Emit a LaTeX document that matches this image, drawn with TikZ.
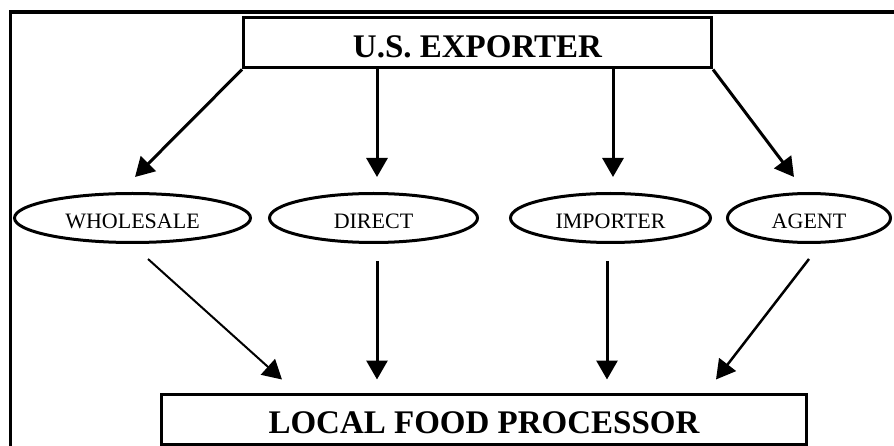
\documentclass[tikz,border=0pt]{standalone}
\usepackage{fontspec}
\setmainfont{Liberation Serif}
\usetikzlibrary{shapes.geometric,arrows.meta,calc}
\tikzset{
  bigbox/.style={draw,line width=3pt,rectangle,inner sep=0pt,
    font=\fontsize{33}{36}\selectfont\bfseries},
  oval/.style={draw,line width=3pt,ellipse,inner sep=0pt,minimum height=49pt,
    font=\fontsize{22}{24}\selectfont, text height=22pt, text depth=0pt},
  arr/.style={line width=3pt,-{Triangle[length=19pt,width=21pt]}},
  thinarr/.style={line width=2pt,-{Triangle[length=19pt,width=21pt]}},
  midarr/.style={line width=2.5pt,-{Triangle[length=19pt,width=21pt]}},
}
\begin{document}
\begin{tikzpicture}[x=1pt,y=-1pt]
\useasboundingbox (0,0) rectangle (894,446);
% outer frame (partly visible)
\draw[line width=3.5pt] (10.3,460) -- (10.3,12) -- (910,12);
% top box
\node[bigbox,minimum width=468pt,minimum height=50pt,text height=30pt,text depth=0pt]
  (ex) at (477.5,43) {U.S. EXPORTER};
% ellipses
\node[oval,minimum width=236pt] (wh) at (132.5,218) {WHOLESALE};
\node[oval,minimum width=208pt] (dr) at (373.5,218) {DIRECT};
\node[oval,minimum width=200pt] (im) at (610.5,218) {IMPORTER};
\node[oval,minimum width=163pt] (ag) at (809,218) {AGENT};
% bottom box
\node[bigbox,minimum width=645pt,minimum height=50pt,text height=29pt,text depth=0pt]
  (lp) at (484,419) {LOCAL FOOD PROCESSOR};
% upper arrows
\draw[arr] (ex.south west) -- ($(wh.north)+(2.5,-15)$);
\draw[arr] ($(dr.north |- ex.south)+(3.5,0)$) -- ($(dr.north)+(3.5,-15)$);
\draw[arr] ($(im.north |- ex.south)+(2.5,0)$) -- ($(im.north)+(2.5,-15)$);
\draw[arr] (ex.south east) -- ($(ag.north)+(-15,-15)$);
% lower arrows
\draw[thinarr] ($(wh.south)+(15.5,15)$) -- ($(lp.north)+(-202,-13)$);
\draw[arr] ($(dr.south)+(3.5,17)$) -- ($(lp.north)+(-107,-13)$);
\draw[arr] ($(im.south)+(-3.5,17)$) -- ($(lp.north)+(123,-13)$);
\draw[midarr] ($(ag.south)+(0,15)$) -- ($(lp.north)+(232,-13)$);
\end{tikzpicture}
\end{document}
